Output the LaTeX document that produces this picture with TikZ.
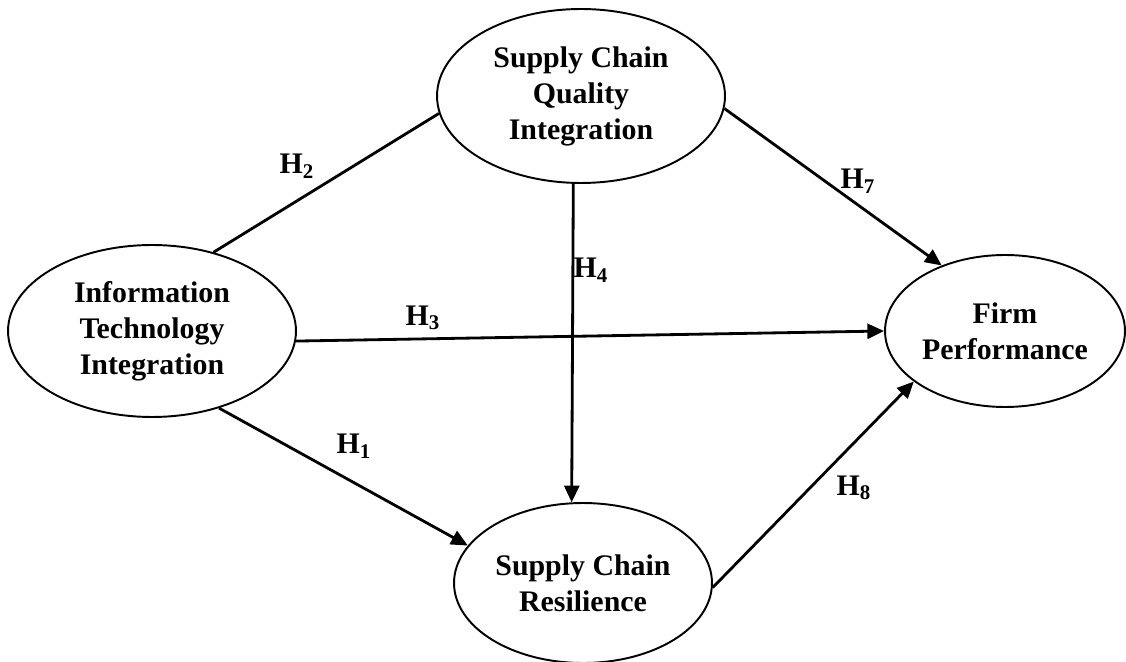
\documentclass[tikz,border=0pt]{standalone}
\usepackage{fontspec}
\setmainfont{Liberation Serif}
\usetikzlibrary{shapes.geometric,arrows.meta}
\newcommand{\hlab}[1]{H\textsubscript{#1}}

\begin{document}
\begin{tikzpicture}[x=0.02cm,y=-0.02cm]
    \tikzset{construct/.style={ellipse,draw,line width=1.1pt,inner sep=0pt,align=center,
        font=\bfseries\fontsize{17}{20.5}\selectfont},
      path/.style={line width=1.6pt},
      effect/.style={path,-{Triangle[length=9.5pt,width=8.5pt]}},
      hyp/.style={font=\bfseries\fontsize{17}{20.5}\selectfont,inner sep=0pt}}
\useasboundingbox (0,0) rectangle (1126,662);
\node[construct,minimum width=5.76cm,minimum height=3.44cm] (ITI) at (152,331) {Information\\Technology\\Integration};
\node[construct,minimum width=5.76cm,minimum height=3.48cm] (SCQI) at (581,96) {Supply Chain\\Quality\\Integration};
\node[construct,minimum width=4.8cm,minimum height=3.04cm] (FP) at (1005,331) {Firm\\Performance};
\node[construct,minimum width=5.16cm,minimum height=3.2cm] (SCR) at (583,583) {Supply Chain\\Resilience};
% hypotheses
 \draw[path] (ITI.52) -- (SCQI.187);
 \draw[effect] (ITI.-4) -- (FP.180);
 \draw[effect] (ITI.-49) -- (SCR.162);
 \draw[effect] (SCQI.265) -- (SCR.98);
 \draw[effect] (SCQI.-5) -- (FP.134);
 \draw[effect] (SCR.-2) -- (FP.209);
\node[hyp] (H1) at (354,446) {\hlab{1}};
\node[hyp] (H2) at (297,166) {\hlab{2}};
\node[hyp] (H3) at (423,318) {\hlab{3}};
\node[hyp] (H4) at (591,270) {\hlab{4}};
\node[hyp] (H7) at (858,181) {\hlab{7}};
\node[hyp] (H8) at (854,488) {\hlab{8}};
\end{tikzpicture}
\end{document}
